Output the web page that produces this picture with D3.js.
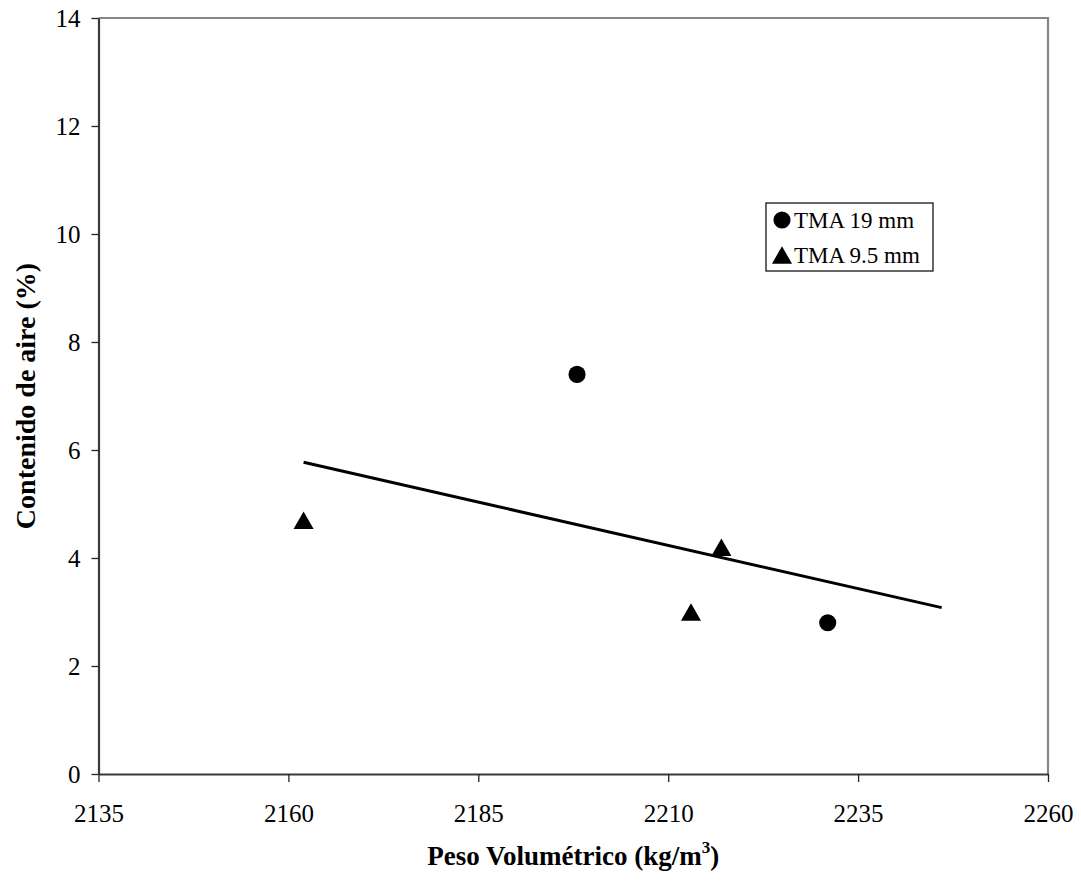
<!DOCTYPE html>
<html>
<head>
<meta charset="utf-8">
<script src="https://cdn.jsdelivr.net/npm/d3@7"></script>
<style>
  html, body { margin: 0; padding: 0; background: #fff; }
  svg { display: block; }
  text { font-family: "Liberation Serif", "Times New Roman", serif; fill: #000; }
</style>
</head>
<body>
<svg id="chart" width="1081" height="886"></svg>
<script>
// Air content vs. unit weight, two aggregate sizes
const seriesNames = ["TMA 19 mm", "TMA 9.5 mm"];
const tma19Weight = [2198, 2231];
const tma19Air = [7.4, 2.8];
const tma95Weight = [2162, 2217, 2213];
const tma95Air = [4.7, 4.2, 3.0];
const xTicks = [2135, 2160, 2185, 2210, 2235, 2260];
const yTicks = [0, 2, 4, 6, 8, 10, 12, 14];
const trendForward = 15; // linear trendline projected forward (kg/m3)

const svg = d3.select("#chart");
const margin = { left: 98.5, right: 1048, top: 18, bottom: 774 };

const x = d3.scaleLinear().domain([2135, 2260]).range([margin.left, margin.right]);
const y = d3.scaleLinear().domain([0, 14]).range([margin.bottom, margin.top]);

// plot frame: top and right edges in grey
svg.append("path")
  .attr("d", `M${margin.left},${margin.top}H${margin.right}V${margin.bottom}`)
  .attr("fill", "none").attr("stroke", "#868686").attr("stroke-width", 2.2);

// axes
const xAxis = svg.append("g").attr("transform", `translate(0,${margin.bottom})`)
  .call(d3.axisBottom(x).tickValues(xTicks).tickSize(8).tickSizeOuter(0).tickPadding(22).tickFormat(d3.format("d")));
const yAxis = svg.append("g").attr("transform", `translate(${margin.left},0)`)
  .call(d3.axisLeft(y).tickValues(yTicks).tickSize(7).tickSizeOuter(0).tickPadding(11).tickFormat(d3.format("d")));

[xAxis, yAxis].forEach(g => {
  g.select(".domain").attr("stroke", "#3a3a3a").attr("stroke-width", 2.2);
  g.selectAll(".tick line").attr("stroke", "#222").attr("stroke-width", 1.3);
  g.selectAll(".tick text")
    .style("font-family", "'Liberation Serif', 'Times New Roman', serif")
    .attr("font-size", 25).attr("fill", "#000");
});
yAxis.selectAll(".tick text").attr("dy", "0.34em");

// linear regression over all points
const allX = tma19Weight.concat(tma95Weight);
const allY = tma19Air.concat(tma95Air);
const mx = d3.mean(allX), my = d3.mean(allY);
const slope = d3.sum(allX, (v, i) => (v - mx) * (allY[i] - my)) / d3.sum(allX, v => (v - mx) * (v - mx));
const intercept = my - slope * mx;
const trendX = [d3.min(allX), d3.max(allX) + trendForward];

svg.append("line")
  .attr("x1", x(trendX[0])).attr("y1", y(intercept + slope * trendX[0]))
  .attr("x2", x(trendX[1])).attr("y2", y(intercept + slope * trendX[1]))
  .attr("stroke", "#000").attr("stroke-width", 3);

// markers
const circleArea = 230, triArea = 175;
const circleSym = d3.symbol().type(d3.symbolCircle).size(circleArea);
const triSym = d3.symbol().type(d3.symbolTriangle).size(triArea);
// d3 centres the triangle on its centroid; shift so its box centre sits on the point
const triHeight = Math.sqrt(triArea * Math.sqrt(3));
const triShift = triHeight / 6;

svg.append("g").selectAll("path")
  .data(tma19Weight.map((w, i) => [w, tma19Air[i]]))
  .join("path")
  .attr("d", circleSym)
  .attr("transform", d => `translate(${x(d[0])},${y(d[1])})`)
  .attr("fill", "#000");

svg.append("g").selectAll("path")
  .data(tma95Weight.map((w, i) => [w, tma95Air[i]]))
  .join("path")
  .attr("d", triSym)
  .attr("transform", d => `translate(${x(d[0])},${y(d[1]) + triShift})`)
  .attr("fill", "#000");

// legend
const legend = svg.append("g").attr("transform", "translate(766,203)");
legend.append("rect").attr("width", 167).attr("height", 68)
  .attr("fill", "#fff").attr("stroke", "#000").attr("stroke-width", 1.2);
const symbols = [circleSym, triSym];
const symShift = [0, triShift];
seriesNames.forEach((name, i) => {
  const cy = 17 + i * 35;
  legend.append("path").attr("d", symbols[i])
    .attr("transform", `translate(16,${cy + symShift[i]})`).attr("fill", "#000");
  legend.append("text").attr("x", 28).attr("y", cy).attr("dy", "0.35em")
    .attr("font-size", 23).text(name);
});

// axis titles
svg.append("text")
  .attr("transform", `translate(35,${(margin.top + margin.bottom) / 2}) rotate(-90)`)
  .attr("text-anchor", "middle").attr("font-weight", "bold").attr("font-size", 28)
  .text("Contenido de aire (%)");

const xt = svg.append("text")
  .attr("x", (margin.left + margin.right) / 2).attr("y", 865)
  .attr("text-anchor", "middle").attr("font-weight", "bold").attr("font-size", 27);
xt.append("tspan").text("Peso Volumétrico (kg/m");
xt.append("tspan").attr("font-size", 17).attr("dy", -12).text("3");
xt.append("tspan").attr("dy", 12).text(")");
</script>
</body>
</html>
